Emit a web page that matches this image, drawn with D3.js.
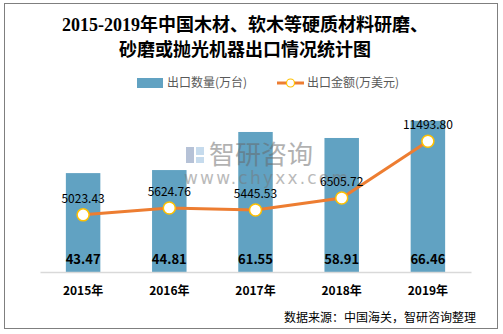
<!DOCTYPE html>
<html><head><meta charset="utf-8">
<script src="https://cdn.jsdelivr.net/npm/d3@7/dist/d3.min.js"></script>
<style>body{margin:0;background:#fff}svg{display:block}</style>
</head><body><div id="c"></div>
<script>
const years = ["2015年","2016年","2017年","2018年","2019年"];
const quantity = [43.47, 44.81, 61.55, 58.91, 66.46];
const amount = [5023.43, 5624.76, 5445.53, 6505.72, 11493.80];
const quantityName = "出口数量(万台)";
const amountName = "出口金额(万美元)";
const titleLines = ["2015-2019年中国木材、软木等硬质材料研磨、","砂磨或抛光机器出口情况统计图"];
const sourceText = "数据来源：中国海关，智研咨询整理";

const W = 503, H = 334;
const font = "'Noto Sans CJK SC', 'Microsoft YaHei', sans-serif";
const svg = d3.select("#c").append("svg").attr("width", W).attr("height", H);

svg.append("rect").attr("x", 4.5).attr("y", 3.5).attr("width", 493).attr("height", 325)
  .attr("fill", "#fff").attr("stroke", "#7f7f7f").attr("stroke-width", 1);

// title
svg.selectAll("text.title").data(titleLines).join("text")
  .attr("x", 245).attr("y", (d, i) => 31 + i * 25)
  .attr("text-anchor", "middle")
  .attr("font-family", "'Liberation Serif', 'Noto Sans CJK SC', serif")
  .attr("font-weight", "bold").attr("font-size", 18).attr("fill", "#000")
  .text(d => d);

const x = d3.scaleBand().domain(years).range([40, 471]).paddingInner(0.6).paddingOuter(0.3);
const yL = d3.scaleLinear().domain([0, 80]).range([272, 90]);
const yR = d3.scaleLinear().domain([0, 16000]).range([272, 90]);

// bars
svg.selectAll("rect.bar").data(quantity).join("rect").attr("class", "bar")
  .attr("x", (d, i) => x(years[i])).attr("width", x.bandwidth())
  .attr("y", d => yL(d)).attr("height", d => yL(0) - yL(d))
  .attr("fill", "#61A2C2");

// watermark (drawn over bars as in the reference)
const wm = svg.append("g").attr("opacity", 0.5);
wm.append("rect").attr("x", 186).attr("y", 147).attr("width", 8).attr("height", 16).attr("fill", "#6f86b0");
wm.append("rect").attr("x", 196).attr("y", 147).attr("width", 8).attr("height", 8).attr("fill", "#8fb8dd");
wm.append("rect").attr("x", 196).attr("y", 157).attr("width", 8).attr("height", 6).attr("fill", "#8fb8dd");
wm.append("text").attr("x", 209).attr("y", 164).attr("font-family", font).attr("font-size", 26)
  .attr("fill", "#666").text("智研咨询");
wm.append("text").attr("x", 184).attr("y", 184).attr("font-family", "'DejaVu Sans', sans-serif")
  .attr("font-size", 17).attr("letter-spacing", 2.2).attr("fill", "#777").text("www.chyxx.com");

// axis
const ax = svg.append("g").attr("transform", "translate(0,272)")
  .call(d3.axisBottom(x).tickSize(0).tickPadding(14));
ax.select(".domain").attr("stroke", "#d9d9d9").attr("stroke-width", 1.5);
ax.selectAll("text").attr("font-family", font).attr("font-size", 12).attr("font-weight", "bold").attr("fill", "#000");

// bar labels
svg.selectAll("text.bl").data(quantity).join("text")
  .attr("x", (d, i) => x(years[i]) + x.bandwidth() / 2).attr("y", 264)
  .attr("text-anchor", "middle").attr("font-family", font).attr("font-size", 13)
  .attr("font-weight", "bold").attr("fill", "#000").text(d => d.toFixed(2));

// line
const cx = i => x(years[i]) + x.bandwidth() / 2;
const line = d3.line().x((d, i) => cx(i)).y(d => yR(d));
svg.append("path").datum(amount).attr("d", line).attr("fill", "none")
  .attr("stroke", "#ED7D31").attr("stroke-width", 3);
svg.selectAll("circle.pt").data(amount).join("circle")
  .attr("cx", (d, i) => cx(i)).attr("cy", d => yR(d)).attr("r", 6)
  .attr("fill", "#fff").attr("stroke", "#FFC000").attr("stroke-width", 1.5);
svg.selectAll("text.ll").data(amount).join("text")
  .attr("x", (d, i) => cx(i)).attr("y", d => yR(d) - 12)
  .attr("text-anchor", "middle").attr("font-family", font).attr("font-size", 12)
  .attr("fill", "#000").text(d => d.toFixed(2));

// legend
const lg = svg.append("g");
lg.append("rect").attr("x", 137).attr("y", 78).attr("width", 26).attr("height", 10).attr("fill", "#61A2C2");
lg.append("text").attr("x", 167).attr("y", 87).attr("font-family", font).attr("font-size", 12)
  .attr("fill", "#595959").text(quantityName);
lg.append("line").attr("x1", 277).attr("x2", 304).attr("y1", 83).attr("y2", 83)
  .attr("stroke", "#ED7D31").attr("stroke-width", 3);
lg.append("circle").attr("cx", 290.5).attr("cy", 83).attr("r", 4)
  .attr("fill", "#fff").attr("stroke", "#FFC000").attr("stroke-width", 1.2);
lg.append("text").attr("x", 307).attr("y", 87).attr("font-family", font).attr("font-size", 12)
  .attr("fill", "#595959").text(amountName);

// source
svg.append("text").attr("x", 476).attr("y", 322).attr("text-anchor", "end")
  .attr("font-family", font).attr("font-size", 12).attr("fill", "#000").text(sourceText);
</script></body></html>
